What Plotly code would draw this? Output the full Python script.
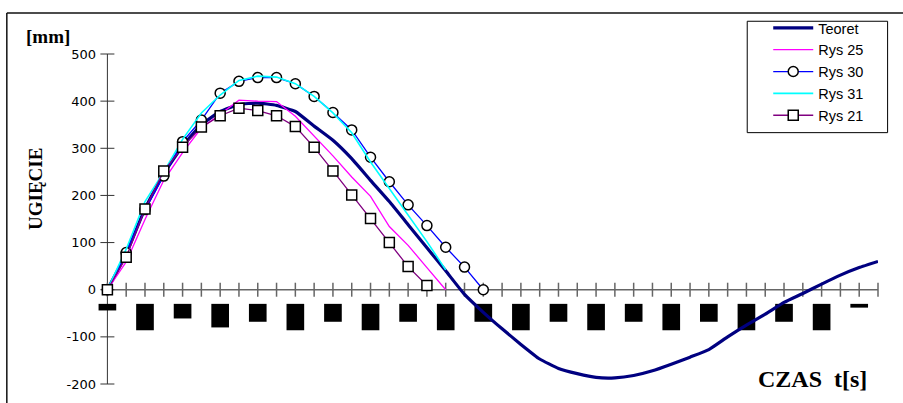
import plotly.graph_objects as go

# ---- data ----
t = list(range(42))  # time step index along CZAS axis

teoret = [0, 76, 172, 246, 305, 350, 378, 393, 396, 391, 378, 347, 317, 278, 232,
          187, 138, 89, 40, -10, -48, -83, -116, -147, -167, -178, -186, -187, -182,
          -172, -158, -143, -127, -100, -75, -52, -27, -8, 12, 31, 47, 60]
rys25 = [0, 59, 149, 232, 291, 343, 372, 402, 400, 399, 368, 326, 284, 239, 198,
         134, 94, 47, 0]
rys30 = [0, 79, 170, 241, 314, 360, 417, 442, 450, 450, 437, 410, 376, 339, 281,
         229, 180, 136, 90, 48, 0]
rys31 = [0, 86, 187, 250, 319, 375, 413, 444, 453, 451, 437, 410, 375, 333, 271,
         215, 159, 102, 42]
rys21 = [0, 69, 171, 252, 302, 345, 369, 385, 380, 369, 346, 302, 252, 201, 151,
         100, 49, 9]

# black blocks below the time axis (every second step)
block_x = list(range(0, 42, 2))
block_top = -30
block_bottom = [-44, -86, -61, -80, -68, -86, -68, -86, -68, -86, -68, -86, -68,
                -86, -68, -86, -68, -86, -68, -86, -38]

y_ticks = [-200, -100, 0, 100, 200, 300, 400, 500]
y_tick_labels = ["-200", "-100", "0", "100", "200", "300", "400", "500"]
x_min, x_max = -0.5, 41
y_min, y_max = -200, 500

# ---- figure ----
fig = go.Figure()

fig.add_trace(go.Bar(
    x=block_x, base=[block_top] * len(block_x),
    y=[b - block_top for b in block_bottom],
    width=0.94, marker=dict(color="black", line=dict(width=0)),
    showlegend=False, hoverinfo="skip"))

# cross ticks on the time axis (at y = 0)
fig.add_trace(go.Scatter(
    x=t, y=[0] * len(t), mode="markers",
    marker=dict(symbol="line-ns", size=10, line=dict(width=1.5, color="#666")),
    showlegend=False, hoverinfo="skip", cliponaxis=False))
# cross ticks on the value axis (at x = 0)
fig.add_trace(go.Scatter(
    x=[0] * len(y_ticks), y=y_ticks, mode="markers",
    marker=dict(symbol="line-ew", size=10, line=dict(width=1, color="#333")),
    showlegend=False, hoverinfo="skip", cliponaxis=False))

fig.add_trace(go.Scatter(
    x=t[:len(teoret)], y=teoret, name="Teoret", mode="lines",
    line=dict(color="#000080", width=3.2, shape="spline", smoothing=0.4),
    cliponaxis=False))
fig.add_trace(go.Scatter(
    x=t[:len(rys25)], y=rys25, name="Rys 25", mode="lines",
    line=dict(color="#FF00FF", width=1.3), cliponaxis=False))
fig.add_trace(go.Scatter(
    x=t[:len(rys30)], y=rys30, name="Rys 30", mode="lines+markers",
    line=dict(color="#0000FF", width=1.3),
    marker=dict(symbol="circle", size=10, color="white",
                line=dict(color="black", width=1.5)),
    cliponaxis=False))
fig.add_trace(go.Scatter(
    x=t[:len(rys31)], y=rys31, name="Rys 31", mode="lines",
    line=dict(color="#00FFFF", width=1.6), cliponaxis=False))
fig.add_trace(go.Scatter(
    x=t[:len(rys21)], y=rys21, name="Rys 21", mode="lines+markers",
    line=dict(color="#800080", width=1.3),
    marker=dict(symbol="square", size=10, color="white",
                line=dict(color="black", width=1.5)),
    cliponaxis=False))

W, H = 903, 403
# plot area in page pixels
sx0, sx1 = 97.9, 878.1
sy0, sy1 = 48.3, 384.0
L, R = sx0, W - sx1
T, B = sy0, H - sy1
pw, ph = sx1 - sx0, sy1 - sy0


def px(xs):
    return (xs - sx0) / pw


def py(ys):
    return (sy1 - ys) / ph


serif = "Liberation Serif, Times New Roman, serif"

fig.update_layout(
    width=W, height=H,
    margin=dict(l=L, r=R, t=T, b=B, pad=0),
    paper_bgcolor="white", plot_bgcolor="white",
    showlegend=True,
    legend=dict(
        x=px(768.3), y=py(5.5), xanchor="left", yanchor="top",
        bgcolor="rgba(0,0,0,0)", borderwidth=0,
        font=dict(family="Liberation Sans, Arial, sans-serif", size=14.5, color="black"),
        tracegroupgap=0, itemwidth=40,
    ),
    xaxis=dict(range=[x_min, x_max], showgrid=False, zeroline=False, showline=False,
               showticklabels=False, ticks=""),
    yaxis=dict(range=[y_min, y_max], tickvals=y_ticks, ticktext=y_tick_labels,
               showgrid=False, zeroline=False, showline=False, ticks="",
               ticklabelstandoff=1,
               tickfont=dict(family="DejaVu Sans, sans-serif", size=13, color="black")),
    shapes=[
        # axis lines
        dict(type="line", xref="x", yref="y", x0=0, x1=x_max, y0=0, y1=0,
             line=dict(color="#666", width=1.6), layer="below"),
        dict(type="line", xref="x", yref="y", x0=0, x1=0, y0=y_min, y1=y_max,
             line=dict(color="#333", width=1), layer="below"),
        # legend frame
        dict(type="rect", xref="paper", yref="paper",
             x0=px(747.3), x1=px(887.7), y0=py(128.3), y1=py(15),
             line=dict(color="black", width=1), fillcolor="white", layer="below"),
        # outer chart frame (top and left edges visible)
        dict(type="line", xref="paper", yref="paper",
             x0=px(6.7), x1=px(910), y0=py(6.7), y1=py(6.7),
             line=dict(color="#111", width=1.5)),
        dict(type="line", xref="paper", yref="paper",
             x0=px(6.7), x1=px(6.7), y0=py(6.7), y1=py(410),
             line=dict(color="#111", width=1.5)),
    ],
    annotations=[
        dict(text="<b>[mm]</b>", xref="paper", yref="paper", x=px(48), y=py(30.5),
             showarrow=False, xanchor="center", yanchor="middle",
             font=dict(family=serif, size=19, color="black")),
        dict(text="<b>UGIĘCIE</b>", xref="paper", yref="paper", x=px(35.5), y=py(186),
             showarrow=False, xanchor="center", yanchor="middle", textangle=-90,
             font=dict(family=serif, size=19, color="black")),
        dict(text="<b>CZAS\u00a0\u00a0t[s]</b>", xref="paper", yref="paper",
             x=px(813), y=py(379), showarrow=False, xanchor="center", yanchor="middle",
             font=dict(family=serif, size=24, color="black")),
    ],
)

fig.write_html("out.html",
               config={"displayModeBar": False},
               post_script="document.body.style.margin='0px';"
                           "document.body.style.overflow='hidden';")
